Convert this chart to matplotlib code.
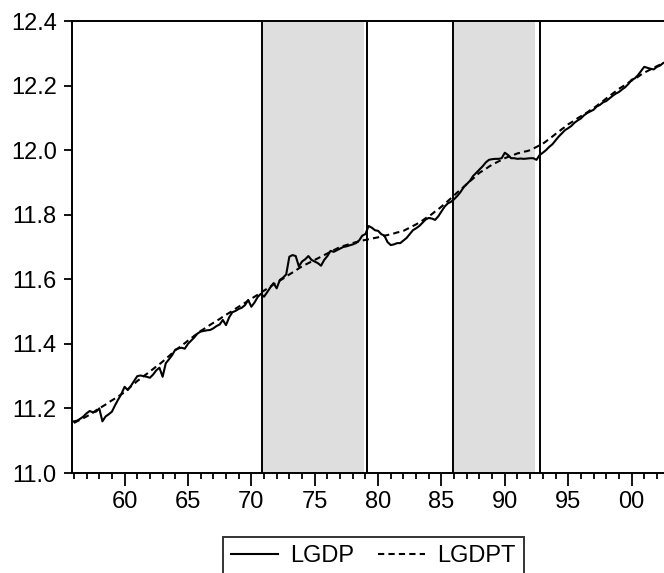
import matplotlib.pyplot as plt
import numpy as np

plt.rcParams['font.family'] = ['Liberation Sans', 'DejaVu Sans']

# quarterly series, 1956Q1 .. 2002Q3
start_year = 1956
lgdp = [
    11.160, 11.162, 11.168, 11.175,   # 1956
    11.185, 11.192, 11.188, 11.190,   # 1957
    11.200, 11.160, 11.175, 11.182,   # 1958
    11.190, 11.210, 11.228, 11.245,   # 1959
    11.267, 11.257, 11.270, 11.285,   # 1960
    11.300, 11.302, 11.300, 11.298,   # 1961
    11.295, 11.305, 11.318, 11.326,   # 1962
    11.298, 11.340, 11.352, 11.365,   # 1963
    11.382, 11.386, 11.388, 11.385,   # 1964
    11.400, 11.410, 11.420, 11.432,   # 1965
    11.438, 11.440, 11.442, 11.443,   # 1966
    11.448, 11.455, 11.460, 11.474,   # 1967
    11.458, 11.482, 11.498, 11.502,   # 1968
    11.508, 11.512, 11.520, 11.536,   # 1969
    11.515, 11.528, 11.545, 11.555,   # 1970
    11.546, 11.560, 11.575, 11.588,   # 1971
    11.572, 11.598, 11.605, 11.615,   # 1972
    11.670, 11.675, 11.672, 11.640,   # 1973
    11.655, 11.662, 11.672, 11.660,   # 1974
    11.655, 11.650, 11.642, 11.660,   # 1975
    11.672, 11.688, 11.685, 11.690,   # 1976
    11.695, 11.700, 11.702, 11.705,   # 1977
    11.708, 11.712, 11.720, 11.735,   # 1978
    11.740, 11.765, 11.760, 11.752,   # 1979
    11.750, 11.740, 11.735, 11.715,   # 1980
    11.706, 11.708, 11.712, 11.712,   # 1981
    11.720, 11.728, 11.740, 11.752,   # 1982
    11.758, 11.765, 11.775, 11.785,   # 1983
    11.790, 11.788, 11.784, 11.795,   # 1984
    11.810, 11.825, 11.835, 11.840,   # 1985
    11.848, 11.858, 11.870, 11.885,   # 1986
    11.895, 11.905, 11.920, 11.930,   # 1987
    11.940, 11.950, 11.962, 11.970,   # 1988
    11.972, 11.973, 11.973, 11.975,   # 1989
    11.992, 11.985, 11.975, 11.975,   # 1990
    11.973, 11.974, 11.973, 11.974,   # 1991
    11.975, 11.975, 11.970, 11.985,   # 1992
    11.992, 12.000, 12.010, 12.018,   # 1993
    12.030, 12.042, 12.052, 12.062,   # 1994
    12.068, 12.075, 12.085, 12.092,   # 1995
    12.098, 12.108, 12.115, 12.120,   # 1996
    12.125, 12.135, 12.140, 12.148,   # 1997
    12.152, 12.160, 12.168, 12.175,   # 1998
    12.180, 12.188, 12.195, 12.205,   # 1999
    12.218, 12.222, 12.232, 12.245,   # 2000
    12.258, 12.255, 12.252, 12.250,   # 2001
    12.258, 12.262, 12.270,           # 2002
]
lgdpt = [
    11.155, 11.160, 11.165, 11.170,   # 1956
    11.175, 11.181, 11.187, 11.194,   # 1957
    11.200, 11.206, 11.212, 11.219,   # 1958
    11.225, 11.231, 11.237, 11.244,   # 1959
    11.250, 11.259, 11.268, 11.276,   # 1960
    11.285, 11.292, 11.300, 11.307,   # 1961
    11.315, 11.322, 11.330, 11.337,   # 1962
    11.345, 11.354, 11.362, 11.371,   # 1963
    11.380, 11.387, 11.395, 11.402,   # 1964
    11.410, 11.417, 11.425, 11.432,   # 1965
    11.440, 11.446, 11.452, 11.459,   # 1966
    11.465, 11.471, 11.477, 11.484,   # 1967
    11.490, 11.496, 11.502, 11.509,   # 1968
    11.515, 11.521, 11.527, 11.534,   # 1969
    11.540, 11.546, 11.552, 11.559,   # 1970
    11.565, 11.571, 11.577, 11.584,   # 1971
    11.590, 11.596, 11.602, 11.609,   # 1972
    11.615, 11.621, 11.627, 11.634,   # 1973
    11.640, 11.645, 11.650, 11.655,   # 1974
    11.660, 11.665, 11.670, 11.675,   # 1975
    11.680, 11.685, 11.690, 11.695,   # 1976
    11.700, 11.703, 11.706, 11.709,   # 1977
    11.712, 11.715, 11.717, 11.720,   # 1978
    11.722, 11.724, 11.726, 11.728,   # 1979
    11.730, 11.732, 11.735, 11.737,   # 1980
    11.740, 11.742, 11.745, 11.747,   # 1981
    11.750, 11.755, 11.760, 11.765,   # 1982
    11.770, 11.776, 11.782, 11.789,   # 1983
    11.795, 11.802, 11.810, 11.817,   # 1984
    11.825, 11.834, 11.842, 11.851,   # 1985
    11.860, 11.869, 11.877, 11.886,   # 1986
    11.895, 11.904, 11.912, 11.921,   # 1987
    11.930, 11.936, 11.942, 11.949,   # 1988
    11.955, 11.960, 11.965, 11.970,   # 1989
    11.975, 11.979, 11.982, 11.986,   # 1990
    11.990, 11.992, 11.995, 11.997,   # 1991
    12.000, 12.005, 12.010, 12.015,   # 1992
    12.020, 12.027, 12.035, 12.042,   # 1993
    12.050, 12.057, 12.065, 12.072,   # 1994
    12.080, 12.086, 12.092, 12.099,   # 1995
    12.105, 12.111, 12.117, 12.124,   # 1996
    12.130, 12.137, 12.145, 12.152,   # 1997
    12.160, 12.167, 12.175, 12.182,   # 1998
    12.190, 12.196, 12.202, 12.209,   # 1999
    12.215, 12.221, 12.227, 12.234,   # 2000
    12.240, 12.245, 12.250, 12.255,   # 2001
    12.260, 12.265, 12.272,           # 2002
]

# shaded periods and the vertical marker lines
shade_spans = [(1970.83, 1978.86), (1985.88, 1992.35)]
marker_lines = [1970.83, 1979.09, 1985.88, 1992.76]

major_years = [1960, 1965, 1970, 1975, 1980, 1985, 1990, 1995, 2000]
major_labels = ['60', '65', '70', '75', '80', '85', '90', '95', '00']
y_ticks = [11.0, 11.2, 11.4, 11.6, 11.8, 12.0, 12.2, 12.4]

t = start_year + np.arange(len(lgdp)) / 4.0

fig = plt.figure(figsize=(6.64, 5.73), dpi=100)
ax = fig.add_axes([72 / 664, 1 - 473 / 573, 1 - 72 / 664, (473 - 21) / 573])

for a, b in shade_spans:
    ax.axvspan(a, b, color='#dedede', lw=0, zorder=0)
for x in marker_lines:
    ax.axvline(x, color='black', lw=1.4, zorder=1)

ax.plot(t, lgdp, color='black', lw=1.5, label='LGDP', zorder=3)
ax.plot(t, lgdpt, color='black', lw=1.5, ls=(0, (3, 2)), label='LGDPT', zorder=3)

ax.set_xlim(1955.85, 2002.56)
ax.set_ylim(11.0, 12.4)
ax.set_yticks(y_ticks)
ax.set_yticklabels(['%.1f' % v for v in y_ticks])
ax.set_xticks(major_years)
ax.set_xticklabels(major_labels)
ax.set_xticks(np.arange(1956, 2003), minor=True)

ax.spines['right'].set_visible(False)
for s in ['left', 'top', 'bottom']:
    ax.spines[s].set_linewidth(1.4)

ax.tick_params(axis='y', which='major', direction='out', length=6, width=1.3,
               pad=5, labelsize=17)
ax.tick_params(axis='x', which='major', direction='out', length=9, width=1.3,
               pad=4, labelsize=17)
ax.tick_params(axis='x', which='minor', direction='out', length=4.5, width=1.3)

leg = fig.legend(loc='upper left', bbox_to_anchor=(223 / 664, 1 - 537 / 573),
                 ncol=2, fontsize=17, frameon=True, fancybox=False,
                 edgecolor='black', handlelength=2.0, handletextpad=0.5,
                 columnspacing=1.0, borderaxespad=0, borderpad=0.35)
leg.get_frame().set_linewidth(1.4)

fig.savefig('out.png', dpi=100)
